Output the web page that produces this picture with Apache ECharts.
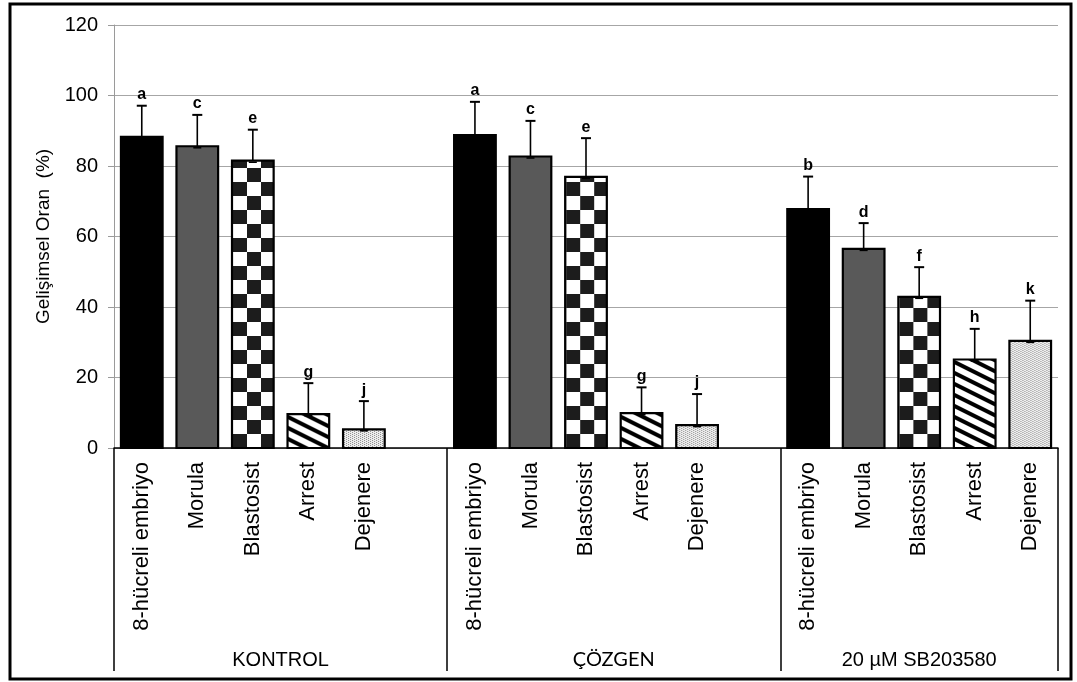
<!DOCTYPE html>
<html><head><meta charset="utf-8">
<script src="https://cdn.jsdelivr.net/npm/echarts@6/dist/echarts.min.js"></script>
<style>html,body{margin:0;padding:0;background:#fff}#c{width:1077px;height:682px}</style>
</head><body><div id="c"></div>
<script>
// ---- data ----
const groups = ['KONTROL', 'ÇÖZGEN', '20 µM SB203580'];
const stages = ['8-hücreli embriyo', 'Morula', 'Blastosist', 'Arrest', 'Dejenere'];
const yTicks = [0, 20, 40, 60, 80, 100, 120];
const kontrolMean = [88.3, 85.6, 81.5, 9.6, 5.3];
const kontrolErr = [8.8, 8.9, 8.8, 8.8, 8.0];
const kontrolLetters = ['a', 'c', 'e', 'g', 'j'];
const cozgenMean = [88.8, 82.7, 76.9, 9.9, 6.5];
const cozgenErr = [9.4, 10.1, 11.0, 7.3, 8.8];
const cozgenLetters = ['a', 'c', 'e', 'g', 'j'];
const sbMean = [67.8, 56.5, 42.9, 25.1, 30.4];
const sbErr = [9.2, 7.3, 8.4, 8.7, 11.4];
const sbLetters = ['b', 'd', 'f', 'h', 'k'];

// ---- build slots ----
const groupMeans = [kontrolMean, cozgenMean, sbMean];
const groupErrs = [kontrolErr, cozgenErr, sbErr];
const groupLetters = [kontrolLetters, cozgenLetters, sbLetters];
const slotLabels = [], barData = [], letters = [], groupBounds = [0], groupCenters = [];
groups.forEach((g, gi) => {
  const start = slotLabels.length;
  stages.forEach((s, si) => {
    const slot = slotLabels.length;
    slotLabels.push(s);
    barData.push([slot, groupMeans[gi][si], groupErrs[gi][si], si]);
    letters.push(groupLetters[gi][si]);
  });
  if (gi < groups.length - 1) slotLabels.push('');
  const end = slotLabels.length;
  groupBounds.push(end);
  groupCenters.push((start + end) / 2);
});

// ---- patterns ----
function makeCanvas(w, h, fn) {
  const c = document.createElement('canvas'); c.width = w; c.height = h;
  const ctx = c.getContext('2d'); const img = ctx.createImageData(w, h);
  for (let y = 0; y < h; y++) for (let x = 0; x < w; x++) {
    const v = fn(x, y); const i = (y * w + x) * 4;
    img.data[i] = v; img.data[i + 1] = v; img.data[i + 2] = v; img.data[i + 3] = 255;
  }
  ctx.putImageData(img, 0, 0); return c;
}
const CELL = 14;
const checker = makeCanvas(2 * CELL, 2 * CELL, (x, y) => ((Math.floor(x / CELL) + Math.floor(y / CELL)) % 2 === 0) ? 255 : 28);
const stripes = makeCanvas(22, 11, (x, y) => {
  let cov = 0;
  for (let sy = 0; sy < 4; sy++) for (let sx = 0; sx < 4; sx++) {
    const px = x + (sx + 0.5) / 4, py = y + (sy + 0.5) / 4;
    const d = (((py - 0.5 * px) % 11) + 11) % 11;
    if (d < 4.5) cov++;
  }
  return Math.round(255 * (1 - cov / 16));
});
const stipple = makeCanvas(4, 2, (x, y) => {
  const dark = (y === 0 && x === 0) || (y === 1 && x === 2);
  return dark ? 140 : 238;
});
const fills = ['#000000', '#595959', checker, stripes, stipple];

const FONT = 'Arial, "Liberation Sans", sans-serif';
const chart = echarts.init(document.getElementById('c'), null, { renderer: 'canvas' });
chart.setOption({
  animation: false,
  backgroundColor: '#ffffff',
  grid: { left: 114, right: 19, top: 25, bottom: 234 },
  xAxis: [{
    type: 'category', data: slotLabels, boundaryGap: true,
    axisLine: { show: true, lineStyle: { color: '#000', width: 1.5 } },
    axisTick: { show: false },
    axisLabel: { interval: 0, rotate: 90, margin: 14, fontSize: 22, color: '#000', fontFamily: FONT }
  }, {
    type: 'value', min: 0, max: slotLabels.length, position: 'bottom', offset: 0,
    axisLine: { show: false }, splitLine: { show: false },
    axisTick: { show: true, customValues: groupBounds, length: 223, lineStyle: { color: '#000', width: 1.5 } },
    axisLabel: {
      show: true, customValues: groupCenters, margin: 202,
      formatter: v => { const i = groupCenters.indexOf(v); const t = groups[i] || ''; return i === 1 ? '{c|' + t + '}' : '{a|' + t + '}'; },
      rich: {
        a: { fontSize: 20, fontFamily: FONT, color: '#000' },
        c: { fontSize: 20, fontFamily: 'Lato, "Open Sans", sans-serif', color: '#000' }
      }
    }
  }],
  yAxis: {
    type: 'value', min: yTicks[0], max: yTicks[yTicks.length - 1], interval: yTicks[1] - yTicks[0],
    name: 'Gelişimsel Oran  (%)', nameLocation: 'middle', nameGap: 56, nameRotate: 90,
    nameTextStyle: { fontSize: 19, color: '#000', fontFamily: FONT },
    axisLine: { show: true, lineStyle: { color: '#9a9a9a', width: 1 } },
    axisTick: { show: true, length: 6, lineStyle: { color: '#9a9a9a' } },
    axisLabel: { margin: 16, fontSize: 20, color: '#000', fontFamily: FONT },
    splitLine: { show: true, lineStyle: { color: '#a6a6a6', width: 1 } }
  },
  series: [{
    type: 'custom', name: 'bars', data: barData, encode: { x: 0, y: 1 },
    renderItem: (params, api) => {
      const slot = api.value(0), v = api.value(1), st = api.value(3);
      const base = api.coord([slot, 0]), top = api.coord([slot, v]);
      const bw = api.size([1, 0])[0] * 0.75;
      const x = base[0] - bw / 2;
      let fill = fills[st];
      if (typeof fill !== 'string') fill = { image: fill, repeat: 'repeat', x: x + 1, y: base[1] };
      return { type: 'rect', shape: { x: x, y: top[1], width: bw, height: base[1] - top[1] },
        style: { fill: fill, stroke: '#000', lineWidth: 2.2 } };
    }
  }, {
    type: 'custom', name: 'err', data: barData, encode: { x: 0, y: 1 }, z: 5,
    renderItem: (params, api) => {
      const slot = api.value(0), v = api.value(1), e = api.value(2);
      const p0 = api.coord([slot, v]), p1 = api.coord([slot, v + e]);
      const s = { stroke: '#000', lineWidth: 1.6 };
      return { type: 'group', children: [
        { type: 'line', shape: { x1: p0[0], y1: p0[1], x2: p1[0], y2: p1[1] }, style: s },
        { type: 'line', shape: { x1: p1[0] - 5, y1: p1[1], x2: p1[0] + 5, y2: p1[1] }, style: { stroke: '#000', lineWidth: 2 } },
        { type: 'line', shape: { x1: p0[0] - 4, y1: p0[1] + 1.5, x2: p0[0] + 4, y2: p0[1] + 1.5 }, style: { stroke: '#000', lineWidth: 1.6 } },
        { type: 'text', x: p1[0], y: p1[1] - 3, style: { text: letters[params.dataIndex], fill: '#000',
          font: 'bold 16px ' + FONT, align: 'center', verticalAlign: 'bottom' } }
      ] };
    }
  }],
  graphic: [{ type: 'rect', silent: true, z: 100, shape: { x: 10, y: 4, width: 1061, height: 675 },
    style: { fill: 'none', stroke: '#000', lineWidth: 3 } }]
});
</script></body></html>
